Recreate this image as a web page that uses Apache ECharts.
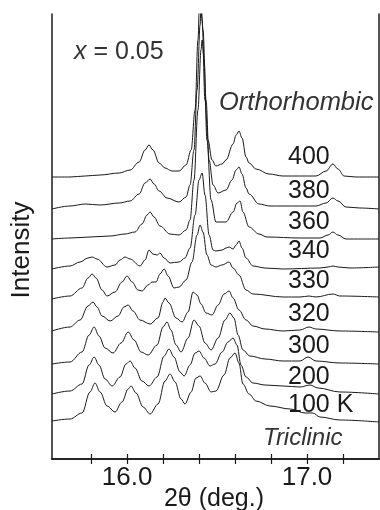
<!DOCTYPE html>
<html><head><meta charset="utf-8">
<script src="https://cdn.jsdelivr.net/npm/echarts@6/dist/echarts.min.js"></script>
<style>html,body{margin:0;padding:0;background:#fff}#c{width:380px;height:510px}</style>
</head><body><div id="c"></div>
<script>
// Temperature labels (top to bottom)
const temps = ['400', '380', '360', '340', '330', '320', '300', '200', '100 K'];
// x-axis tick values and labelled ticks (2θ, deg.)
const tickValues = [15.8, 16.0, 16.2, 16.4, 16.6, 16.8, 17.0, 17.2];
const labelValues = [16.0, 17.0];

// Stacked diffraction profiles: [2θ (deg.), intensity (arb. units, offset included)]
const k400 = [[15.583,282],[15.683,282],[15.767,283],[15.85,284],[15.956,286],[16.017,289],[16.067,297],[16.1,309],[16.122,314],[16.144,309],[16.178,296],[16.211,291],[16.25,288],[16.289,288],[16.328,294],[16.356,309],[16.378,349],[16.394,419],[16.406,479],[16.417,439],[16.433,359],[16.45,319],[16.472,299],[16.494,293],[16.528,295],[16.55,299],[16.589,315],[16.606,324],[16.622,328],[16.639,321],[16.661,302],[16.678,296],[16.717,290],[16.789,285],[16.867,283],[17.05,283],[17.106,288],[17.144,295],[17.172,290],[17.206,283],[17.272,282],[17.4,282]];
const k380 = [[15.583,250],[15.683,253],[15.767,255],[15.85,254],[15.956,256],[16.017,258],[16.067,265],[16.1,276],[16.128,280],[16.15,275],[16.178,268],[16.222,261],[16.289,257],[16.328,262],[16.35,274],[16.372,309],[16.389,369],[16.406,434],[16.411,454],[16.422,429],[16.439,359],[16.456,299],[16.478,274],[16.506,266],[16.55,269],[16.583,279],[16.606,289],[16.622,292],[16.639,285],[16.661,271],[16.678,265],[16.733,255],[16.794,253],[16.867,253],[17.05,253],[17.106,256],[17.144,261],[17.172,258],[17.217,252],[17.294,251],[17.4,250]];
const k360 = [[15.583,220],[15.683,221],[15.794,222],[15.906,223],[15.989,225],[16.044,227],[16.083,235],[16.111,244],[16.128,247],[16.15,242],[16.183,233],[16.239,225],[16.289,224],[16.328,229],[16.35,239],[16.372,279],[16.394,349],[16.411,409],[16.417,419],[16.428,399],[16.444,319],[16.467,259],[16.494,237],[16.55,237],[16.589,247],[16.611,256],[16.628,258],[16.644,247],[16.678,232],[16.733,225],[16.778,222],[16.961,221],[17.072,221],[17.117,224],[17.144,227],[17.172,224],[17.217,220],[17.4,220]];
const k340 = [[15.583,190],[15.683,193],[15.739,197],[15.783,201],[15.806,202],[15.833,200],[15.889,192],[15.933,194],[15.961,199],[15.989,202],[16.017,200],[16.072,193],[16.1,199],[16.122,209],[16.144,205],[16.167,204],[16.183,206],[16.206,201],[16.239,196],[16.289,197],[16.322,201],[16.35,211],[16.378,244],[16.4,279],[16.417,286],[16.433,264],[16.456,224],[16.478,209],[16.494,208],[16.528,209],[16.55,211],[16.567,212],[16.589,210],[16.606,214],[16.622,218],[16.639,211],[16.661,201],[16.7,193],[16.767,191],[16.867,190],[17.072,191],[17.117,192],[17.144,193],[17.172,192],[17.239,191],[17.4,192]];
const k330 = [[15.583,160],[15.683,163],[15.75,171],[15.783,181],[15.806,185],[15.828,181],[15.861,169],[15.889,163],[15.933,167],[15.972,177],[16.0,183],[16.028,177],[16.061,169],[16.083,168],[16.117,174],[16.139,177],[16.161,177],[16.183,185],[16.206,190],[16.228,183],[16.261,171],[16.289,172],[16.328,179],[16.361,197],[16.389,224],[16.406,234],[16.422,227],[16.444,204],[16.467,194],[16.494,192],[16.528,194],[16.567,197],[16.589,191],[16.622,184],[16.661,169],[16.7,165],[16.867,162],[16.961,162],[17.011,163],[17.05,162],[17.144,165],[17.183,163],[17.4,162]];
const k320 = [[15.583,128],[15.683,132],[15.739,139],[15.783,153],[15.811,157],[15.833,152],[15.861,143],[15.906,138],[15.95,143],[15.983,152],[16.006,154],[16.033,148],[16.072,139],[16.128,135],[16.172,141],[16.2,157],[16.211,161],[16.233,156],[16.272,141],[16.306,137],[16.339,147],[16.367,167],[16.389,164],[16.411,155],[16.439,146],[16.472,144],[16.506,154],[16.539,165],[16.567,168],[16.589,161],[16.622,149],[16.661,139],[16.7,133],[16.767,130],[16.867,128],[16.961,129],[17.011,132],[17.05,130],[17.183,128],[17.4,127]];
const k300 = [[15.583,95],[15.683,97],[15.75,107],[15.789,124],[15.817,132],[15.844,123],[15.878,111],[15.922,106],[15.967,116],[16.006,127],[16.039,119],[16.078,107],[16.117,104],[16.167,114],[16.2,132],[16.222,137],[16.244,129],[16.272,114],[16.3,107],[16.339,121],[16.372,139],[16.4,133],[16.433,116],[16.467,109],[16.506,121],[16.544,139],[16.572,146],[16.594,141],[16.617,124],[16.644,109],[16.683,103],[16.767,100],[16.867,98],[16.961,98],[17.006,102],[17.05,98],[17.183,96],[17.4,95]];
const k200 = [[15.583,65],[15.683,68],[15.75,75],[15.789,94],[15.817,102],[15.844,94],[15.878,80],[15.917,73],[15.961,82],[15.994,95],[16.017,98],[16.044,91],[16.083,78],[16.122,73],[16.167,82],[16.206,103],[16.233,110],[16.261,102],[16.294,87],[16.317,83],[16.35,94],[16.378,106],[16.4,108],[16.428,101],[16.461,93],[16.489,95],[16.528,107],[16.561,117],[16.589,121],[16.611,114],[16.633,94],[16.661,82],[16.7,76],[16.767,74],[16.867,73],[16.961,72],[17.017,74],[17.061,71],[17.183,67],[17.4,65]];
const k100 = [[15.583,38],[15.683,40],[15.75,46],[15.794,67],[15.822,76],[15.85,67],[15.889,53],[15.933,47],[15.972,57],[16.006,70],[16.022,73],[16.05,66],[16.089,52],[16.128,45],[16.172,55],[16.211,78],[16.239,85],[16.267,77],[16.3,60],[16.322,55],[16.356,67],[16.383,81],[16.406,83],[16.433,76],[16.467,67],[16.494,68],[16.539,84],[16.572,101],[16.6,106],[16.622,96],[16.644,75],[16.678,65],[16.717,58],[16.794,53],[16.906,50],[16.989,46],[17.033,46],[17.072,42],[17.183,39],[17.4,37]];

const profiles = [k400, k380, k360, k340, k330, k320, k300, k200, k100];
const labelY = [157, 191, 222, 251, 281, 314, 346, 377, 405];

const FONT = "'Liberation Sans', Arial, Helvetica, sans-serif";
const INK = '#1a1a1a';
const chart = echarts.init(document.getElementById('c'), null, {renderer: 'canvas'});

const xBase = {
  type: 'value', min: 15.583, max: 17.4,
  splitLine: {show: false},
  axisLine: {show: true, lineStyle: {color: INK, width: 1.5}},
  axisTick: {show: true, inside: true, length: 5, customValues: tickValues, lineStyle: {color: INK, width: 1.2}}
};
const yBase = {
  type: 'value', min: 0, max: 445,
  splitLine: {show: false}, axisTick: {show: false}, axisLabel: {show: false},
  axisLine: {show: true, lineStyle: {color: INK, width: 1.5}}
};

const graphic = [];
temps.forEach((t, i) => {
  graphic.push({type: 'text', x: 288, y: labelY[i], style: {text: t, font: '25px ' + FONT, fill: INK, textAlign: 'left', textVerticalAlign: 'middle'}});
});
graphic.push({type: 'text', x: 74, y: 52, style: {text: '{i|x} = 0.05', font: '25px ' + FONT, fill: '#333', textVerticalAlign: 'middle', rich: {i: {fontStyle: 'italic', fontSize: 25, fontFamily: FONT, fill: '#333'}}}});
graphic.push({type: 'text', x: 219, y: 103, style: {text: 'Orthorhombic', font: 'italic 25.5px ' + FONT, fill: '#333', textVerticalAlign: 'middle'}});
graphic.push({type: 'text', x: 263, y: 438, style: {text: 'Triclinic', font: 'italic 24px ' + FONT, fill: '#333', textVerticalAlign: 'middle'}});
graphic.push({type: 'text', x: 22, y: 250, rotation: Math.PI / 2, style: {text: 'Intensity', font: '26px ' + FONT, fill: INK, textAlign: 'center', textVerticalAlign: 'middle'}});
graphic.push({type: 'text', x: 214, y: 499, style: {text: '2θ (deg.)', font: '25px ' + FONT, fill: INK, textAlign: 'center', textVerticalAlign: 'middle'}});

chart.setOption({
  animation: false,
  backgroundColor: '#fff',
  grid: {left: 52, right: 1, top: 14, bottom: 51, outerBoundsMode: 'none', containLabel: false},
  xAxis: [
    Object.assign({}, xBase, {
      position: 'bottom',
      axisLabel: {show: true, customValues: labelValues, formatter: v => Number(v).toFixed(1), margin: 6, fontSize: 26, fontFamily: FONT, color: INK}
    }),
    Object.assign({}, xBase, {position: 'top', axisLabel: {show: false}})
  ],
  yAxis: [Object.assign({}, yBase, {position: 'left'}), Object.assign({}, yBase, {position: 'right'})],
  series: profiles.map((d, i) => ({
    type: 'line', name: temps[i], data: d, xAxisIndex: 0, yAxisIndex: 0,
    showSymbol: false, smooth: 0.35, smoothMonotone: 'x', clip: true,
    lineStyle: {color: INK, width: 1}
  })),
  graphic: graphic
});
</script></body></html>
